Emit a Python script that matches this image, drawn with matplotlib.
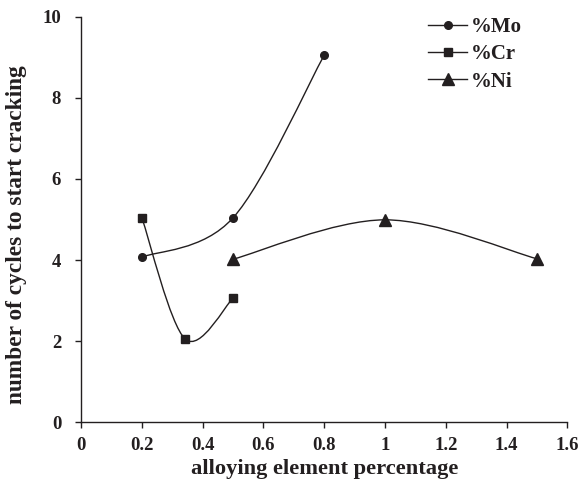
import matplotlib
matplotlib.use("Agg")
import matplotlib.pyplot as plt
from matplotlib.path import Path
from matplotlib.patches import PathPatch
from matplotlib.lines import Line2D

plt.rcParams['font.family'] = ['Liberation Serif', 'DejaVu Serif']
plt.rcParams['font.weight'] = 'bold'

# data
mo_x = [0.2, 0.5, 0.8]
mo_y = [4.07, 5.04, 9.05]
cr_x = [0.2, 0.343, 0.5]
cr_y = [5.04, 2.05, 3.06]
ni_x = [0.5, 1.0, 1.5]
ni_y = [4.02, 4.99, 4.03]

xticks = [0, 0.2, 0.4, 0.6, 0.8, 1, 1.2, 1.4, 1.6]
xticklabels = ['0', '0.2', '0.4', '0.6', '0.8', '1', '1.2', '1.4', '1.6']
yticks = [0, 2, 4, 6, 8, 10]


def smooth_path(xs, ys):
    # catmull-rom style bezier through the points (like excel "smoothed line")
    pts = list(zip(xs, ys))
    n = len(pts)
    verts = [pts[0]]
    codes = [Path.MOVETO]
    for i in range(n - 1):
        p0 = pts[i - 1] if i > 0 else pts[i]
        p1 = pts[i]
        p2 = pts[i + 1]
        p3 = pts[i + 2] if i + 2 < n else pts[i + 1]
        c1 = (p1[0] + (p2[0] - p0[0]) / 6, p1[1] + (p2[1] - p0[1]) / 6)
        c2 = (p2[0] - (p3[0] - p1[0]) / 6, p2[1] - (p3[1] - p1[1]) / 6)
        verts += [c1, c2, p2]
        codes += [Path.CURVE4] * 3
    return Path(verts, codes)


fig = plt.figure(figsize=(5.79, 4.86), dpi=100)
ax = fig.add_axes([0.140, 0.131, 0.840, 0.835])

c = '#231f20'
for xs, ys, m, ms in [(mo_x, mo_y, 'o', 5.5), (cr_x, cr_y, 's', 5.5), (ni_x, ni_y, '^', 8)]:
    ax.add_patch(PathPatch(smooth_path(xs, ys), fill=False, edgecolor=c, lw=1.0))
    ax.plot(xs, ys, ls='none', marker=m, ms=ms, color=c)

ax.set_xlim(0, 1.6)
ax.set_ylim(0, 10)
ax.set_xticks(xticks)
ax.set_xticklabels(xticklabels)
ax.set_yticks(yticks)
ax.spines['top'].set_visible(False)
ax.spines['right'].set_visible(False)
for s in ['left', 'bottom']:
    ax.spines[s].set_color(c)
    ax.spines[s].set_linewidth(1.0)
ax.tick_params(direction='out', length=4.3, width=1.0, color=c, labelsize=13.5, labelcolor=c)
ax.tick_params(axis='y', pad=10)
ax.tick_params(axis='x', pad=6)
ax.set_xlabel('alloying element percentage', fontsize=16.2, fontweight='bold', color=c, labelpad=4)
ax.set_ylabel('number of cycles to start cracking', fontsize=16.8, fontweight='bold', color=c)
ax.yaxis.set_label_coords(-0.112, 0.462)

handles = [Line2D([], [], color=c, lw=1.0, marker='o', ms=5.5),
           Line2D([], [], color=c, lw=1.0, marker='s', ms=5.5),
           Line2D([], [], color=c, lw=1.0, marker='^', ms=8)]
fig.legend(handles, ['%Mo', '%Cr', '%Ni'], loc='upper left', bbox_to_anchor=(0.739, 0.965),
           frameon=False, borderpad=0, borderaxespad=0, handlelength=1.9, handletextpad=0.15,
           labelspacing=0.35, prop={'family': 'Liberation Serif', 'weight': 'bold', 'size': 15},
           labelcolor=c)

fig.savefig('out.png', dpi=100)
